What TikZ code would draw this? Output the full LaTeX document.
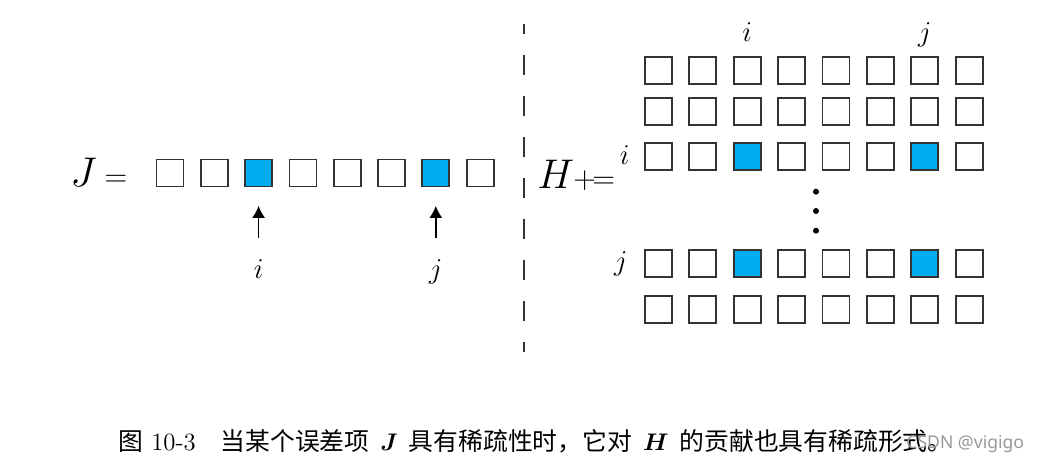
\documentclass[tikz,border=0pt]{standalone}
\usepackage{fontspec}
\usepackage{bm}
\usetikzlibrary{arrows.meta}
\newfontfamily\cjk{Noto Sans CJK SC}
\newfontfamily\wmfont{Noto Sans}
\definecolor{cellblue}{RGB}{0,174,239}
\definecolor{cellline}{RGB}{51,51,51}
\tikzset{
   cell/.style={draw=cellline,line width=0.9pt,minimum size=13.5pt,inner sep=0pt},
   idx/.style={inner sep=0pt,font=\fontsize{15.5}{18}\selectfont},
   big/.style={inner sep=0pt,font=\fontsize{19.75}{24}\selectfont},
   pointer/.style={line width=0.7pt,-{Latex[length=6pt,width=6.5pt]},shorten <=10.4pt,shorten >=9.25pt}
}
\newcommand{\smalleq}[1]{{\fontsize{15.75}{18}\selectfont #1}}
\begin{document}
\begin{tikzpicture}[x=0.5pt,y=-0.5pt]
   \useasboundingbox (0,0) rectangle (1038,465);
   \node [big,anchor=base west] (Jeq) at (70,186.5) {$J$\hspace{4pt}\smalleq{=}};
   \foreach \k in {1,...,8} {
      \ifnum\k=3 \def\shade{cellblue}\else\ifnum\k=7 \def\shade{cellblue}\else\def\shade{white}\fi\fi
      \node [cell,fill=\shade] (J-\k) at ({170+44.3*(\k-1)},173) {};
   }
   \node [idx,anchor=base] (Ji) at (J-3 |- 0,278) {$i$};
   \node [idx,anchor=base] (Jj) at (J-7 |- 0,278) {$j$};
   \draw [pointer] (Ji) -- (J-3);
   \draw [pointer] (Jj) -- (J-7);
   \draw [cellline,line width=1pt,dash pattern=on 10pt off 10.5pt,dash phase=5pt] (524.3,24) -- (524.3,352);
   \node [big,anchor=base west] (Hplus) at (537,188) {$H$\kern-0.5pt\smalleq{+\kern-1.75pt=}};
   \foreach \r/\y in {1/70.8,2/111.3,3/156.8,4/263.3,5/309.3} {
      \foreach \c in {1,...,8} {
         \def\shade{white}
         \ifnum\r>2 \ifnum\r<5
            \ifnum\c=3 \def\shade{cellblue}\fi
            \ifnum\c=7 \def\shade{cellblue}\fi
         \fi\fi
         \node [cell,fill=\shade] (H-\r-\c) at ({658.3+44.4*(\c-1)},\y) {};
      }
   }
   \node [idx,anchor=base] (Hti) at (H-1-3 |- 0,41.7) {$i$};
   \node [idx,anchor=base] (Htj) at (H-1-7 |- 0,42) {$j$};
   \node [idx,anchor=base east] (Hli) at ([xshift=-7pt,yshift=-4pt]H-3-1.west) {$i$};
   \node [idx,anchor=base east] (Hlj) at ([xshift=-8pt,yshift=-3.4pt]H-4-1.west) {$j$};
   \fill (816,191.7) circle (1.5pt);
   \fill (816,211) circle (1.5pt);
   \fill (816,230.7) circle (1.5pt);
   \node [anchor=base west,inner sep=0pt,font=\fontsize{12.4}{15}\selectfont] (cap) at (118,450)
      {{\cjk 图} 10-3\quad{\cjk 当某个误差项}\hspace{5.5pt}$\bm{J}$\hspace{5.5pt}{\cjk 具有稀疏性时，它对}\hspace{5.5pt}$\bm{H}$\hspace{5.5pt}{\cjk 的贡献也具有稀疏形式。}};
   \node [anchor=base west,inner sep=0pt,text=black!40,font=\wmfont\fontsize{8.8}{10}\selectfont] (wm) at (906,448) {CSDN @vigigo};
\end{tikzpicture}
\end{document}
